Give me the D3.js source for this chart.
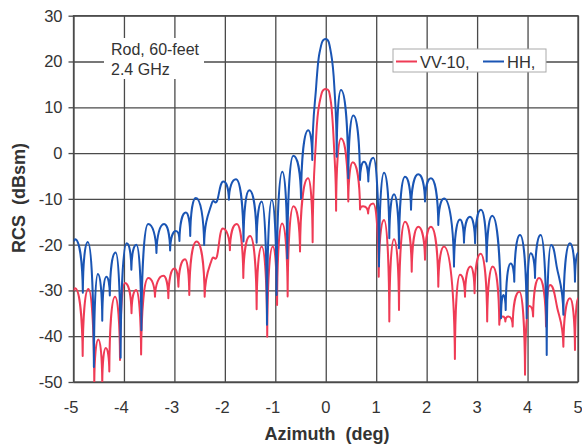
<!DOCTYPE html>
<html>
<head>
<meta charset="utf-8">
<script src="https://cdn.jsdelivr.net/npm/d3@7"></script>
<style>
  body { margin: 0; background: #fff; }
  svg text { font-family: "Liberation Sans", Arial, sans-serif; fill: #333; }
</style>
</head>
<body>
<svg id="chart" width="582" height="447"></svg>
<script>
// tick values
var xTicks = [-5, -4, -3, -2, -1, 0, 1, 2, 3, 4, 5];
var yTicks = [-50, -40, -30, -20, -10, 0, 10, 20, 30];

// series names
var seriesNames = ['VV-10,', 'HH,'];

var hhData = [
	[-5.0, -19.2], [-4.97, -18.8], [-4.815, -30.5], [-4.716, -19.4], [-4.596, -46.7],
	[-4.517, -26.4], [-4.43, -36.6], [-4.35, -27.0], [-4.28, -31.1], [-4.165, -21.7],
	[-4.066, -44.7], [-3.946, -19.7], [-3.853, -25.5], [-3.754, -20.0], [-3.654, -38.7],
	[-3.52, -15.5], [-3.356, -21.8], [-3.205, -15.5], [-3.085, -21.3], [-2.97, -17.0],
	[-2.9, -19.2], [-2.773, -13.0], [-2.686, -18.1], [-2.575, -9.8], [-2.41, -20.1],
	[-2.26, -11.0], [-2.16, -10.6], [-2.03, -6.2], [-1.92, -10.2], [-1.78, -5.7],
	[-1.63, -19.3], [-1.515, -8.1], [-1.37, -19.6], [-1.27, -10.6], [-1.165, -37.5],
	[-1.07, -10.2], [-0.975, -31.0], [-0.861, -4.1], [-0.762, -23.0], [-0.643, -0.6],
	[-0.49, -9.9], [-0.346, 5.0], [-0.267, -1.5], [-0.19, 14.5], [-0.125, 21.8],
	[0.0, 24.9], [0.105, 21.8], [0.17, 14.5], [0.217, -0.8], [0.302, 13.8],
	[0.447, -5.5], [0.546, 8.2], [0.679, -5.9], [0.758, -1.9], [0.844, -6.2],
	[0.943, -1.0], [1.056, -24.8], [1.155, -4.3], [1.26, -18.6], [1.353, -9.0],
	[1.452, -20.8], [1.571, -5.2], [1.69, -12.4], [1.835, -4.6], [1.967, -10.6],
	[2.086, -5.5], [2.231, -15.7], [2.344, -9.9], [2.542, -24.8], [2.661, -14.5],
	[2.74, -19.6], [2.859, -13.9], [2.96, -19.7], [3.077, -12.4], [3.19, -23.7],
	[3.30, -13.7], [3.474, -36.1], [3.52, -31.0], [3.567, -34.3], [3.666, -24.1],
	[3.737, -28.1], [3.85, -17.9], [3.983, -36.1], [4.062, -21.9], [4.148, -27.3],
	[4.26, -17.9], [4.38, -44.1], [4.465, -20.1], [4.578, -24.8], [4.71, -35.3],
	[4.84, -19.7], [4.94, -28.1], [5.0, -21.8]
];

// VV-10, [azimuth deg, RCS dBsm]
var vvData = [
	[-5.0, -30.0], [-4.97, -29.5], [-4.818, -44.3], [-4.706, -29.7], [-4.588, -50.5],
	[-4.508, -40.7], [-4.43, -50.5], [-4.36, -42.6], [-4.29, -47.7], [-4.177, -31.4],
	[-4.078, -45.2], [-3.98, -28.4], [-3.85, -35.0], [-3.76, -29.9], [-3.66, -44.0],
	[-3.517, -27.3], [-3.385, -31.4], [-3.22, -26.8], [-3.12, -31.7], [-3.0, -25.2],
	[-2.92, -29.2], [-2.79, -23.2], [-2.705, -31.0], [-2.56, -19.3], [-2.4, -31.4],
	[-2.26, -23.3], [-2.16, -22.7], [-2.04, -16.5], [-1.9, -21.2], [-1.765, -15.5],
	[-1.634, -27.3], [-1.5, -18.1], [-1.37, -34.1], [-1.27, -20.4], [-1.16, -40.1],
	[-1.05, -20.4], [-0.965, -33.2], [-0.865, -15.4], [-0.755, -31.3], [-0.64, -11.6],
	[-0.51, -21.5], [-0.35, -5.5], [-0.26, -19.5], [-0.19, 3.5], [-0.125, 10.9],
	[0.0, 14.0], [0.105, 10.9], [0.17, 0.0], [0.205, -12.6], [0.302, 3.2],
	[0.447, -10.6], [0.535, -2.0], [0.68, -12.3], [0.74, -11.6], [0.84, -13.2],
	[0.94, -11.0], [1.05, -27.0], [1.155, -14.6], [1.26, -36.8], [1.353, -18.8],
	[1.452, -34.3], [1.571, -15.0], [1.704, -25.9], [1.835, -16.1], [1.967, -23.3],
	[2.086, -16.1], [2.231, -29.2], [2.344, -20.4], [2.56, -45.0], [2.661, -26.6],
	[2.76, -31.4], [2.87, -24.8], [2.95, -30.6], [3.07, -22.0], [3.2, -36.8],
	[3.31, -24.8], [3.44, -37.5], [3.507, -35.7], [3.56, -36.8], [3.62, -35.7],
	[3.705, -37.9], [3.837, -30.3], [3.95, -48.4], [4.035, -33.4], [4.11, -35.7],
	[4.23, -27.3], [4.366, -37.9], [4.445, -28.8], [4.59, -33.9], [4.71, -42.3],
	[4.84, -31.7], [4.94, -43.0], [5.0, -31.7]
];

var svg = d3.select('#chart');

var plotLeft = 73.5, plotRight = 578, plotTop = 15.7, plotBottom = 382;

var x = d3.scaleLinear().domain([-5, 5]).range([plotLeft, plotRight]);
var y = d3.scaleLinear().domain([-50, 30]).range([plotBottom, plotTop]);

var gridColor = '#4a4a4a';

svg.append('defs').append('clipPath')
	.attr('id', 'plotClip')
	.append('rect')
	.attr('x', plotLeft)
	.attr('y', plotTop)
	.attr('width', plotRight - plotLeft)
	.attr('height', plotBottom - plotTop);

// grid
var xGrid = svg.append('g')
	.attr('transform', 'translate(0,' + plotBottom + ')')
	.call(d3.axisBottom(x).tickValues(xTicks).tickSize(-(plotBottom - plotTop)).tickFormat(''));
var yGrid = svg.append('g')
	.attr('transform', 'translate(' + plotLeft + ',0)')
	.call(d3.axisLeft(y).tickValues(yTicks).tickSize(-(plotRight - plotLeft)).tickFormat(''));
[xGrid, yGrid].forEach(function (g) {
	g.select('.domain').remove();
	g.selectAll('.tick line').attr('stroke', gridColor).attr('stroke-width', 1.3);
});

// outer tick marks on the left
yGrid.selectAll('.tick').append('line')
	.attr('x1', -5).attr('x2', 0)
	.attr('stroke', gridColor).attr('stroke-width', 1.3);

// frame
svg.append('rect')
	.attr('x', plotLeft).attr('y', plotTop)
	.attr('width', plotRight - plotLeft).attr('height', plotBottom - plotTop)
	.attr('fill', 'none')
	.attr('stroke', gridColor)
	.attr('stroke-width', 1.3);

// tick labels
svg.append('g').selectAll('text')
	.data(yTicks)
	.enter().append('text')
	.attr('x', plotLeft - 11)
	.attr('y', function (d) { return y(d) + 6; })
	.attr('text-anchor', 'end')
	.style('font-size', '16.5px')
	.text(function (d) { return d; });

svg.append('g').selectAll('text')
	.data(xTicks)
	.enter().append('text')
	.attr('x', function (d) { return x(d) - (d < 0 ? 2.5 : 0); })
	.attr('y', plotBottom + 31)
	.attr('text-anchor', 'middle')
	.style('font-size', '16.5px')
	.text(function (d) { return d; });

// axis titles
svg.append('text')
	.attr('x', 327)
	.attr('y', 440)
	.attr('text-anchor', 'middle')
	.style('font-size', '18px')
	.style('font-weight', 'bold')
	.text('Azimuth\u00a0 (deg)');

svg.append('text')
	.attr('transform', 'translate(25,198) rotate(-90)')
	.attr('text-anchor', 'middle')
	.style('font-size', '18px')
	.style('font-weight', 'bold')
	.text('RCS\u00a0 (dBsm)');

// lobe-shaped curve: steep into the nulls, flat over the peaks,
// plain tangent through points on a slope
function curveArch(context) {
	var pts;
	function kind(i) {
		if (i === 0 || i === pts.length - 1) return 'end';
		var p = pts[i][1], a = pts[i - 1][1], b = pts[i + 1][1];
		// screen y grows downward
		if (p > a && p > b) return 'null';
		if (p < a && p < b) return 'peak';
		return 'slope';
	}
	function slopeAt(i) {
		var a = pts[i - 1], b = pts[i + 1];
		return (b[1] - a[1]) / (b[0] - a[0]);
	}
	function control(i, towards, out) {
		var p = pts[i], q = pts[towards],
			dx = q[0] - p[0], dy = q[1] - p[1], k = kind(i);
		if (k === 'null') return [p[0] + 0.05 * dx, p[1] + 0.6 * dy];
		if (k === 'slope') {
			var h = 0.35 * dx;
			return [p[0] + h, p[1] + h * slopeAt(i)];
		}
		return [p[0] + 0.55 * dx, p[1]];
	}
	return {
		areaStart: function () {},
		areaEnd: function () {},
		lineStart: function () { pts = []; },
		point: function (px, py) { pts.push([+px, +py]); },
		lineEnd: function () {
			if (!pts.length) return;
			context.moveTo(pts[0][0], pts[0][1]);
			for (var i = 1; i < pts.length; i++) {
				var c1 = control(i - 1, i),
					c2 = control(i, i - 1);
				context.bezierCurveTo(c1[0], c1[1], c2[0], c2[1], pts[i][0], pts[i][1]);
			}
		}
	};
}

var line = d3.line()
	.x(function (d) { return x(d[0]); })
	.y(function (d) { return y(d[1]); })
	.curve(curveArch);

var plot = svg.append('g').attr('clip-path', 'url(#plotClip)');

var series = [
	{ name: seriesNames[0], data: vvData, color: '#ef3b55' },
	{ name: seriesNames[1], data: hhData, color: '#1a55b4' }
];

series.forEach(function (s) {
	plot.append('path')
		.attr('d', line(s.data))
		.attr('fill', 'none')
		.attr('stroke', s.color)
		.attr('stroke-width', 2)
		.attr('stroke-linejoin', 'round');
});

// annotation
var note = svg.append('g');
note.append('rect')
	.attr('x', 104).attr('y', 38)
	.attr('width', 100).attr('height', 41)
	.attr('fill', '#fff');
note.append('text')
	.attr('x', 111).attr('y', 55)
	.style('font-size', '16px')
	.text('Rod, 60-feet');
note.append('text')
	.attr('x', 111).attr('y', 75)
	.style('font-size', '16px')
	.text('2.4 GHz');

// legend
var legend = svg.append('g');
legend.append('rect')
	.attr('x', 393).attr('y', 49)
	.attr('width', 153).attr('height', 23)
	.attr('fill', '#fff')
	.attr('stroke', '#aaa')
	.attr('stroke-width', 1);

var legendX = [396, 483];
series.forEach(function (s, i) {
	legend.append('line')
		.attr('x1', legendX[i]).attr('x2', legendX[i] + 21)
		.attr('y1', 61.5).attr('y2', 61.5)
		.attr('stroke', s.color)
		.attr('stroke-width', 2);
	legend.append('text')
		.attr('x', legendX[i] + 24)
		.attr('y', 67.5)
		.style('font-size', '16.5px')
		.text(s.name);
});
</script>
</body>
</html>
